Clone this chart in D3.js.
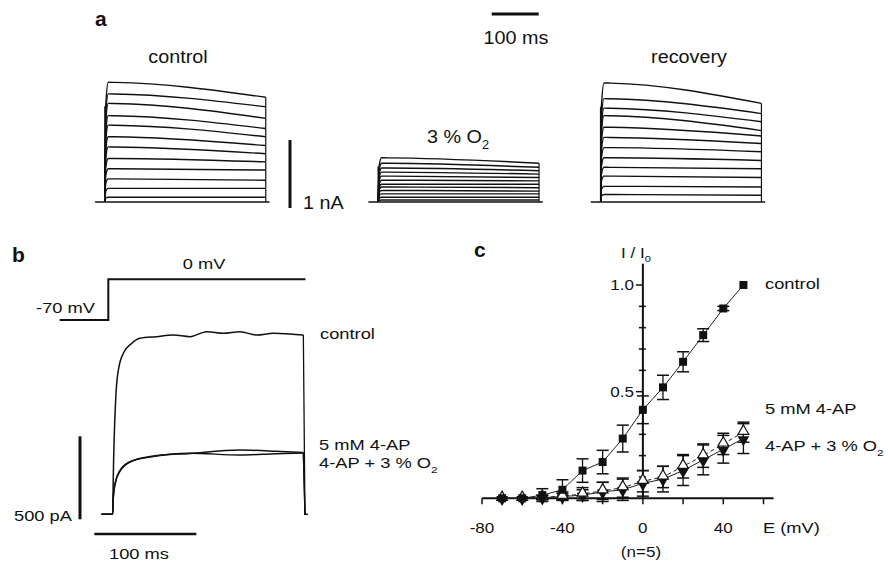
<!DOCTYPE html>
<html>
<head>
<meta charset="utf-8">
<script src="https://cdn.jsdelivr.net/npm/d3@7"></script>
<style>
  body { margin: 0; background: #fff; }
  svg text { font-family: Arial, "Liberation Sans", sans-serif; fill: #111; }
</style>
</head>
<body>
<div id="figure"></div>
<script>
// ---- panel a : family of current traces (nA), peak and end of each sweep
const controlPeaks  = [1.76, 1.59, 1.45, 1.27, 1.13, 0.96, 0.81, 0.64, 0.49, 0.34, 0.20, 0.07];
const controlEnds   = [1.54, 1.40, 1.23, 1.08, 0.96, 0.83, 0.71, 0.59, 0.47, 0.32, 0.20, 0.07];
const hypoxiaPeaks  = [0.65, 0.57, 0.50, 0.44, 0.38, 0.32, 0.26, 0.22, 0.17, 0.12, 0.07, 0.03];
const hypoxiaEnds   = [0.57, 0.51, 0.46, 0.41, 0.36, 0.31, 0.26, 0.21, 0.16, 0.12, 0.07, 0.03];
const recoveryPeaks = [1.75, 1.52, 1.38, 1.27, 1.10, 0.95, 0.80, 0.65, 0.51, 0.38, 0.23, 0.11];
const recoveryEnds  = [1.45, 1.30, 1.18, 1.05, 0.97, 0.86, 0.74, 0.61, 0.49, 0.36, 0.22, 0.10];

// ---- panel b : currents at 0 mV (ms, pA)
const bControlT = [-11, 0, 0.5, 3, 5.5, 10.4, 18.6, 26.8, 43, 59.4, 75.8, 92.2, 108.4, 124.8, 141.2, 157.5, 173.8, 186.9];
const bControlI = [0, 0, 200, 700, 867, 970, 1030, 1060, 1070, 1080, 1070, 1100, 1090, 1100, 1080, 1090, 1086, 1080];
const bApT = [-11, 0, 0.6, 2.3, 7.2, 17, 36.6, 75.8, 124.8, 160, 186.9];
const bApI = [0, 0, 107, 187, 265, 317, 348, 367, 387, 380, 372];
const bApO2T = [-11, 0, 0.6, 2.3, 7.2, 17, 36.6, 75.8, 124.8, 160, 186.9];
const bApO2I = [0, 0, 100, 180, 260, 315, 345, 368, 357, 365, 370];
const stepT = [-52, -4.3, -4.3, 189];
const stepV = [-70, -70, 0, 0];

// ---- panel c : normalised I-V (n=5)
const voltages = [-70, -60, -50, -40, -30, -20, -10, 0, 10, 20, 30, 40, 50];
const ivControl    = [0, 0, 0.015, 0.04, 0.13, 0.17, 0.28, 0.415, 0.52, 0.64, 0.765, 0.89, 1.0];
const ivControlErr = [0, 0, 0.03, 0.047, 0.055, 0.055, 0.063, 0.065, 0.057, 0.047, 0.03, 0.01, 0];
const ivAp         = [0, 0, 0.005, 0.01, 0.02, 0.035, 0.05, 0.08, 0.1, 0.15, 0.2, 0.255, 0.31];
const ivApErr      = [0, 0, 0.01, 0.02, 0.03, 0.04, 0.045, 0.05, 0.05, 0.055, 0.055, 0.05, 0.047];
const ivApO2       = [0, 0, 0.003, 0.008, 0.015, 0.03, 0.04, 0.07, 0.09, 0.13, 0.18, 0.23, 0.28];
const ivApO2Err    = [0, 0, 0.01, 0.015, 0.025, 0.045, 0.05, 0.06, 0.06, 0.07, 0.07, 0.065, 0.07];
const xTicks = [-80, -60, -40, -20, 0, 20, 40, 60];
const xTickLabels = [-80, -40, 0, 40];
const yTicks = [0.1, 0.2, 0.3, 0.4, 0.5, 0.6, 0.7, 0.8, 0.9, 1.0];
const yTickLabels = [0.5, 1.0];

const W = 888, H = 564;
const svg = d3.select("#figure").append("svg").attr("width", W).attr("height", H);

// le texte de la figure d'origine est un peu étiré en largeur -> scale(sx, 1)
function label(x, y, txt, opts = {}) {
   const size = opts.size || 15;
   const t = svg.append("text").attr("x", 0).attr("y", 0)
      .attr("transform", `translate(${x},${y}) scale(${opts.stretch || 1},1)`)
      .attr("font-size", size)
      .attr("text-anchor", opts.anchor || "start")
      .attr("font-weight", opts.bold ? "bold" : "normal")
      .text(txt);
   if (opts.sub) {
      t.append("tspan").attr("font-size", size * 0.65).attr("dy", size * 0.3).text(opts.sub);
   }
   return t;
}
const A = {size: 18.5, stretch: 1.07};   // texte panneau a
const B = {size: 15, stretch: 1.22};     // texte panneaux b et c

// ======================= panel a =========================
const aX0 = [105, 378.3, 600.7];   // sweep onset (px)
const aBase = 202;
const aPxPerMs = 0.47, aPxPerNa = 68;
const aY = d3.scaleLinear().domain([0, 1]).range([aBase, aBase - aPxPerNa]);
const aLine = d3.line().x(d => d[0]).y(d => aY(d[1])).curve(d3.curveMonotoneX);

function drawFamily(x0, peaks, ends) {
   const x = d3.scaleLinear().domain([0, 100]).range([x0, x0 + 100 * aPxPerMs]);
   // baseline
   svg.append("line").attr("x1", x(-21)).attr("x2", x(350)).attr("y1", aBase).attr("y2", aBase)
      .attr("stroke", "#111").attr("stroke-width", 1.6);
   peaks.forEach((p, i) => {
      const pts = [[x(0), 0], [x(1.5), p * 0.8], [x(7), p], [x(20), p * 0.995 + ends[i] * 0.005], [x(342), ends[i]]];
      svg.append("path").attr("d", aLine(pts)).attr("fill", "none")
         .attr("stroke", "#111").attr("stroke-width", 1.4);
   });
   // falling edge
   svg.append("line").attr("x1", x(342)).attr("x2", x(342)).attr("y1", aY(ends[0])).attr("y2", aBase)
      .attr("stroke", "#111").attr("stroke-width", 1.2);
   svg.append("line").attr("x1", x(0)).attr("x2", x(0)).attr("y1", aY(0)).attr("y2", aY(peaks[0] * 0.8))
      .attr("stroke", "#111").attr("stroke-width", 1.6);
}
drawFamily(aX0[0], controlPeaks, controlEnds);
drawFamily(aX0[1], hypoxiaPeaks, hypoxiaEnds);
drawFamily(aX0[2], recoveryPeaks, recoveryEnds);

label(95, 26, "a", {size: 21, bold: true});
label(178, 63, "control", {...A, anchor: "middle"});
label(689, 63, "recovery", {...A, anchor: "middle"});
label(427, 143, "3 % O", {...A, sub: "2"});
// scale bars
svg.append("line").attr("x1", 491.7).attr("x2", 491.7 + 100 * aPxPerMs).attr("y1", 14).attr("y2", 14)
   .attr("stroke", "#111").attr("stroke-width", 3);
label(516, 44, "100 ms", {...A, anchor: "middle"});
svg.append("line").attr("x1", 290).attr("x2", 290).attr("y1", aY(0) + 6).attr("y2", aY(1) + 6)
   .attr("stroke", "#111").attr("stroke-width", 3);
label(303, 209, "1 nA", A);

// ======================= panel b =========================
const bX = d3.scaleLinear().domain([0, 100]).range([112.7, 214.7]);
const bY = d3.scaleLinear().domain([0, 500]).range([514.3, 431.3]);
const bV = d3.scaleLinear().domain([-70, 0]).range([320, 279.3]);
const bLine = d3.line().x(d => bX(d[0])).y(d => bY(d[1])).curve(d3.curveMonotoneX);

// voltage protocol
svg.append("path")
   .attr("d", d3.line().x(d => bX(d[0])).y(d => bV(d[1]))(stepT.map((t, i) => [t, stepV[i]])))
   .attr("fill", "none").attr("stroke", "#111").attr("stroke-width", 2);

function drawBTrace(ts, is) {
   const pts = ts.map((t, i) => [t, is[i]]);
   svg.append("path").attr("d", bLine(pts)).attr("fill", "none")
      .attr("stroke", "#111").attr("stroke-width", 1.5);
   const last = pts[pts.length - 1];
   svg.append("path")
      .attr("d", d3.line().x(d => bX(d[0])).y(d => bY(d[1]))([last, [188.5, 0], [191, 0]]))
      .attr("fill", "none").attr("stroke", "#111").attr("stroke-width", 1.3);
}
drawBTrace(bControlT, bControlI);
drawBTrace(bApT, bApI);
drawBTrace(bApO2T, bApO2I);

label(12, 262, "b", {size: 21, bold: true});
label(204, 269, "0 mV", {...B, anchor: "middle"});
label(95, 313, "-70 mV", {...B, anchor: "end"});
label(320, 339, "control", B);
label(319, 450, "5 mM 4-AP", B);
label(319, 468, "4-AP + 3 % O", {...B, sub: "2"});
svg.append("line").attr("x1", 80).attr("x2", 80).attr("y1", bY(-30)).attr("y2", bY(470))
   .attr("stroke", "#111").attr("stroke-width", 3);
label(72, 521, "500 pA", {...B, anchor: "end"});
svg.append("line").attr("x1", bX(-18)).attr("x2", bX(82)).attr("y1", 534).attr("y2", 534)
   .attr("stroke", "#111").attr("stroke-width", 2.5);
label(139, 559, "100 ms", {...B, anchor: "middle"});

// ======================= panel c =========================
const cX = d3.scaleLinear().domain([-80, 40]).range([482, 723.3]);
const cY = d3.scaleLinear().domain([0, 1]).range([498.3, 285]);

// axes
svg.append("line").attr("x1", cX(-80)).attr("x2", cX(65)).attr("y1", cY(0)).attr("y2", cY(0))
   .attr("stroke", "#111").attr("stroke-width", 2);
svg.append("line").attr("x1", cX(0)).attr("x2", cX(0)).attr("y1", cY(0)).attr("y2", cY(1.1))
   .attr("stroke", "#111").attr("stroke-width", 2);
xTicks.forEach(v => {
   svg.append("line").attr("x1", cX(v)).attr("x2", cX(v)).attr("y1", cY(0)).attr("y2", cY(0) + 6)
      .attr("stroke", "#111").attr("stroke-width", 1.5);
});
xTickLabels.forEach(v => label(cX(v), 533, v, {...B, size: 14, anchor: "middle"}));
yTicks.forEach(v => {
   const major = yTickLabels.includes(v);
   svg.append("line").attr("x1", cX(0) - (major ? 7 : 4)).attr("x2", cX(0) + (major ? 0 : 3))
      .attr("y1", cY(v)).attr("y2", cY(v)).attr("stroke", "#111").attr("stroke-width", 1.5);
});
yTickLabels.forEach(v => label(634, cY(v) + 5, v.toFixed(1), {...B, size: 14, anchor: "end"}));

function ivSeries(vals, errs, dashed) {
   const pts = voltages.map((v, i) => [v, vals[i], errs[i]]);
   svg.append("path")
      .attr("d", d3.line().x(d => cX(d[0])).y(d => cY(d[1]))(pts))
      .attr("fill", "none").attr("stroke", "#222").attr("stroke-width", 1)
      .attr("stroke-dasharray", dashed ? "4,3" : null);
   pts.filter(d => d[2] > 0).forEach(d => {
      const x = cX(d[0]), y1 = cY(d[1] - d[2]), y2 = cY(d[1] + d[2]);
      svg.append("line").attr("x1", x).attr("x2", x).attr("y1", y1).attr("y2", y2)
         .attr("stroke", "#111").attr("stroke-width", 1.3);
      [y1, y2].forEach(y => svg.append("line").attr("x1", x - 6).attr("x2", x + 6)
         .attr("y1", y).attr("y2", y).attr("stroke", "#111").attr("stroke-width", 1.5));
   });
   return pts;
}
const ptsO2 = ivSeries(ivApO2, ivApO2Err, false);
const ptsAp = ivSeries(ivAp, ivApErr, true);
const ptsCtl = ivSeries(ivControl, ivControlErr, false);

ptsO2.forEach(d => svg.append("path")
   .attr("d", d3.symbol().type(d3.symbolTriangle).size(60)())
   .attr("transform", `translate(${cX(d[0])},${cY(d[1]) + 1}) rotate(180)`)
   .attr("fill", "#111"));
ptsAp.forEach(d => svg.append("path")
   .attr("d", d3.symbol().type(d3.symbolTriangle).size(50)())
   .attr("transform", `translate(${cX(d[0])},${cY(d[1]) - 1})`)
   .attr("fill", "#fff").attr("stroke", "#111").attr("stroke-width", 1.2));
ptsCtl.forEach(d => svg.append("path")
   .attr("d", d3.symbol().type(d3.symbolSquare).size(64)())
   .attr("transform", `translate(${cX(d[0])},${cY(d[1])})`)
   .attr("fill", "#111"));

label(474, 257, "c", {size: 21, bold: true});
label(621, 258, "I / I", {...B, size: 14, sub: "0"});
label(765, 289, "control", B);
label(765, 414, "5 mM 4-AP", B);
label(765, 451, "4-AP + 3 % O", {...B, sub: "2"});
label(763, 533, "E (mV)", B);
label(641, 557, "(n=5)", {...B, size: 14, anchor: "middle"});
</script>
</body>
</html>
